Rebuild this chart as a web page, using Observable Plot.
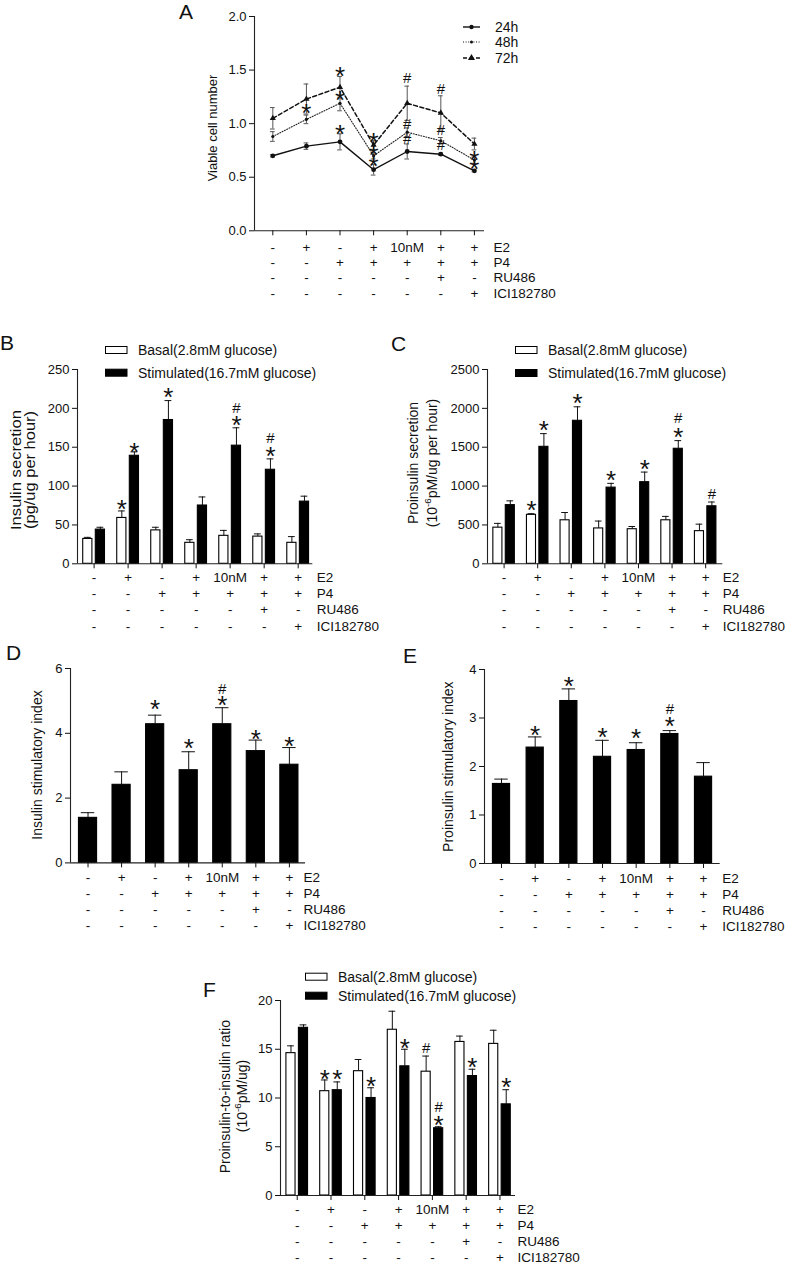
<!DOCTYPE html>
<html>
<head>
<meta charset="utf-8">
<script src="https://cdn.jsdelivr.net/npm/d3@7"></script>
<script src="https://cdn.jsdelivr.net/npm/@observablehq/plot@0.6"></script>
<style>
  html, body { margin: 0; padding: 0; background: #fff; }
  #wrap { position: relative; width: 787px; height: 1264px; overflow: hidden; background: #fff; }
</style>
</head>
<body>
<div id="wrap"></div>
<script>
// ---------- shared categories / treatment table ----------
const cats = [1, 2, 3, 4, 5, 6, 7];
const rowE2 = ["-", "+", "-", "+", "10nM", "+", "+"];
const rowP4 = ["-", "-", "+", "+", "+", "+", "+"];
const rowRU = ["-", "-", "-", "-", "-", "+", "-"];
const rowICI = ["-", "-", "-", "-", "-", "-", "+"];
const rowNames = ["E2", "P4", "RU486", "ICI182780"];
const seriesNames = ["Basal(2.8mM glucose)", "Stimulated(16.7mM glucose)"];
const timeNames = ["24h", "48h", "72h"];

// ---------- A: viable cell number ----------
const a24 = [0.70, 0.79, 0.83, 0.57, 0.74, 0.715, 0.56];
const a24Err = [0.01, 0.03, 0.075, 0.05, 0.07, 0.01, 0.01];
const a48 = [0.88, 1.04, 1.19, 0.70, 0.92, 0.84, 0.66];
const a48Err = [0.045, 0.04, 0.07, 0.03, 0.04, 0.03, 0.03];
const a72 = [1.05, 1.23, 1.34, 0.80, 1.19, 1.10, 0.81];
const a72Err = [0.10, 0.14, 0.10, 0.04, 0.16, 0.16, 0.055];
const aStars = [[2, 1.155], [3, 1.50], [3, 1.28], [3, 0.96], [4, 0.884], [4, 0.766], [4, 0.663], [7, 0.72], [7, 0.63]];
const aHashes = [[5, 1.43], [5, 1.0], [5, 0.86], [6, 1.33], [6, 0.94], [6, 0.80]];

// ---------- B: insulin secretion ----------
const bBasal = [32, 59, 43, 27, 36, 35, 27];
const bBasalErr = [2, 9, 4, 4, 7, 3.5, 8];
const bStim = [44, 139, 185, 75, 152, 121, 80];
const bStimErr = [3, 5, 25, 11, 23, 14, 7];
const bStars = [[2, 0, 78], [2, 1, 152], [3, 1, 222], [5, 1, 186], [6, 1, 146]];
const bHashes = [[5, 1, 201], [6, 1, 162]];

// ---------- C: proinsulin secretion ----------
const cBasal = [465, 630, 560, 455, 445, 560, 420];
const cBasalErr = [55, 15, 100, 95, 35, 50, 90];
const cStim = [755, 1505, 1840, 980, 1050, 1480, 740];
const cStimErr = [55, 170, 180, 55, 130, 105, 55];
const cStars = [[2, 0, 772], [2, 1, 1792], [3, 1, 2144], [4, 1, 1158], [5, 1, 1295], [6, 1, 1707]];
const cHashes = [[6, 1, 1878], [7, 1, 900]];

// ---------- D: insulin stimulatory index ----------
const dVals = [1.39, 2.41, 4.28, 2.86, 4.28, 3.45, 3.03];
const dErr = [0.16, 0.40, 0.28, 0.57, 0.51, 0.34, 0.53];
const dStars = [[3, 4.92], [4, 3.73], [5, 5.05], [6, 4.02], [7, 3.79]];
const dHashes = [[5, 5.38]];

// ---------- E: proinsulin stimulatory index ----------
const eVals = [1.64, 2.39, 3.35, 2.20, 2.34, 2.67, 1.79];
const eErr = [0.10, 0.22, 0.25, 0.34, 0.15, 0.07, 0.29];
const eStars = [[2, 2.78], [3, 3.78], [4, 2.74], [5, 2.71], [6, 2.95]];
const eHashes = [[6, 3.20]];

// ---------- F: proinsulin-to-insulin ratio ----------
const fBasal = [14.6, 10.7, 12.75, 17.0, 12.7, 15.75, 15.55];
const fBasalErr = [0.75, 1.15, 1.2, 1.9, 1.6, 0.6, 1.4];
const fStim = [17.2, 10.8, 10.0, 13.25, 6.9, 12.25, 9.35];
const fStimErr = [0.3, 0.85, 1.05, 1.75, 0.15, 0.7, 1.5];
const fStars = [[2, 0, 12.6], [2, 1, 12.6], [3, 1, 11.8], [4, 1, 15.7], [5, 1, 7.86], [6, 1, 13.74], [7, 1, 11.73]];
const fHashes = [[5, 0, 15.2], [5, 1, 9.06]];

// ================= drawing =================
const FONT = "Arial, 'Liberation Sans', Helvetica, sans-serif";
const wrap = document.getElementById("wrap");
const STAR = 26, HASH = 15;

function tableMarks(xEnd, rowDy, labelDx) {
  const rows = [rowE2, rowP4, rowRU, rowICI];
  const out = [];
  rows.forEach((row, r) => {
    out.push(Plot.text(cats, {x: d => d, y: () => 0, text: (d, i) => row[i], dy: rowDy[r], fontSize: 13.5, fill: "#111"}));
    out.push(Plot.text([rowNames[r]], {x: () => xEnd, y: () => 0, text: d => d, dx: labelDx, dy: rowDy[r], textAnchor: "start", fontSize: 13.5, fill: "#111"}));
  });
  return out;
}

function annMarks(stars, hashes, xOf, yOf) {
  return [
    Plot.text(stars, {x: xOf, y: yOf, text: () => "*", fontSize: STAR, dy: STAR * 0.255, fill: "#111"}),
    Plot.text(hashes, {x: xOf, y: yOf, text: () => "#", fontSize: HASH, dy: 0.5, fill: "#111"})
  ];
}

function groupedBars(vals, errs, off, w, cap, white) {
  return [
    Plot.rect(cats, {x1: d => d + off - w / 2, x2: d => d + off + w / 2, y1: () => 0, y2: (d, i) => vals[i],
      fill: white ? "#fff" : "#000", stroke: "#000", strokeWidth: 1.1}),
    Plot.ruleX(cats, {x: d => d + off, y1: (d, i) => vals[i], y2: (d, i) => vals[i] + errs[i], stroke: "#111", strokeWidth: 1}),
    Plot.ruleY(cats, {y: (d, i) => vals[i] + errs[i], x1: d => d + off - cap, x2: d => d + off + cap, stroke: "#111", strokeWidth: 1})
  ];
}

function makePanel(cfg) {
  const mL = 60, mT = 25, mB = 80;
  const mR = Math.min(100, 787 - cfg.x1);
  const width = cfg.x1 - cfg.x0 + mL + mR;
  const height = cfg.y1 - cfg.y0 + mT + mB;
  const svg = Plot.plot({
    width, height,
    marginLeft: mL, marginRight: mR, marginTop: mT, marginBottom: mB,
    x: {type: "linear", domain: cfg.xDomain},
    y: {type: "linear", domain: cfg.yDomain},
    style: {fontFamily: FONT, fontSize: "13px", color: "#111", background: "transparent", overflow: "visible"},
    marks: [
      ...cfg.marks,
      Plot.ruleX([cfg.xDomain[0]], {stroke: "#222", strokeWidth: 1.1}),
      Plot.ruleY([0], {stroke: "#222", strokeWidth: 1.1}),
      Plot.axisY({ticks: cfg.yTicks, tickFormat: cfg.yFormat, tickSize: 5, tickPadding: 3, label: null, fontSize: 13}),
      Plot.axisX({ticks: cats, tickFormat: () => "", tickSize: 5, label: null}),
      ...tableMarks(cfg.xDomain[1], cfg.rowDy, cfg.labelDx)
    ]
  });
  svg.style.position = "absolute";
  svg.style.left = (cfg.x0 - mL) + "px";
  svg.style.top = (cfg.y0 - mT) + "px";
  svg.style.maxWidth = "none";
  wrap.appendChild(svg);
}

// ---- A ----
const capA = 0.07;
const aList = [[a24, a24Err], [a48, a48Err], [a72, a72Err]];
const aMarks = [];
aList.forEach(([v, e]) => {
  aMarks.push(Plot.ruleX(cats, {x: d => d, y1: (d, i) => v[i] - e[i], y2: (d, i) => v[i] + e[i], stroke: "#555", strokeWidth: 1}));
  aMarks.push(Plot.ruleY(cats, {y: (d, i) => v[i] + e[i], x1: d => d - capA, x2: d => d + capA, stroke: "#555", strokeWidth: 1}));
  aMarks.push(Plot.ruleY(cats, {y: (d, i) => v[i] - e[i], x1: d => d - capA, x2: d => d + capA, stroke: "#555", strokeWidth: 1}));
});
aMarks.push(
  Plot.line(cats, {x: d => d, y: (d, i) => a24[i], stroke: "#111", strokeWidth: 1.4}),
  Plot.line(cats, {x: d => d, y: (d, i) => a48[i], stroke: "#222", strokeWidth: 1.1, strokeDasharray: "1,1.6"}),
  Plot.line(cats, {x: d => d, y: (d, i) => a72[i], stroke: "#111", strokeWidth: 1.5, strokeDasharray: "4,2.5"}),
  Plot.dot(cats, {x: d => d, y: (d, i) => a24[i], r: 2.4, fill: "#111"}),
  Plot.dot(cats, {x: d => d, y: (d, i) => a48[i], r: 1.6, fill: "#111"}),
  Plot.dot(cats, {x: d => d, y: (d, i) => a72[i], r: 2.3, symbol: "triangle", fill: "#111"}),
  ...annMarks(aStars, aHashes, d => d[0], d => d[1])
);
makePanel({x0: 254, x1: 484, y0: 15.7, y1: 230, xDomain: [0.455, 7.3], yDomain: [0, 2],
  yTicks: [0, 0.5, 1, 1.5, 2], yFormat: d3.format(".1f"), marks: aMarks, rowDy: [17, 32, 47, 63], labelDx: 9});

// ---- B ----
const OFF = 0.185, BW = 0.27, CAPG = 0.1;
const offOf = g => (g === 0 ? -OFF : OFF);
makePanel({x0: 76.7, x1: 312, y0: 369, y1: 563.3, xDomain: [0.512, 7.43], yDomain: [0, 250],
  yTicks: [0, 50, 100, 150, 200, 250], yFormat: d3.format("d"),
  marks: [...groupedBars(bBasal, bBasalErr, -OFF, BW, CAPG, true), ...groupedBars(bStim, bStimErr, OFF, BW, CAPG, false),
    ...annMarks(bStars, bHashes, d => d[0] + offOf(d[1]), d => d[2])],
  rowDy: [14, 30, 46, 62.5], labelDx: 4});

// ---- C ----
makePanel({x0: 486.7, x1: 722, y0: 369, y1: 563.3, xDomain: [0.506, 7.51], yDomain: [0, 2500],
  yTicks: [0, 500, 1000, 1500, 2000, 2500], yFormat: d3.format("d"),
  marks: [...groupedBars(cBasal, cBasalErr, -OFF, BW, CAPG, true), ...groupedBars(cStim, cStimErr, OFF, BW, CAPG, false),
    ...annMarks(cStars, cHashes, d => d[0] + offOf(d[1]), d => d[2])],
  rowDy: [14, 30, 46, 62.5], labelDx: 0});

// ---- D ----
makePanel({x0: 70, x1: 305, y0: 668.3, y1: 862.7, xDomain: [0.478, 7.48], yDomain: [0, 6],
  yTicks: [0, 2, 4, 6], yFormat: d3.format("d"),
  marks: [...groupedBars(dVals, dErr, 0, 0.54, 0.2, false), ...annMarks(dStars, dHashes, d => d[0], d => d[1])],
  rowDy: [15, 31, 47, 63], labelDx: -2});

// ---- E ----
makePanel({x0: 484.3, x1: 720, y0: 669.3, y1: 863.3, xDomain: [0.495, 7.495], yDomain: [0, 4],
  yTicks: [0, 1, 2, 3, 4], yFormat: d3.format("d"),
  marks: [...groupedBars(eVals, eErr, 0, 0.51, 0.2, false), ...annMarks(eStars, eHashes, d => d[0], d => d[1])],
  rowDy: [15, 31, 47, 63], labelDx: 2});

// ---- F ----
makePanel({x0: 280, x1: 515, y0: 1000, y1: 1195, xDomain: [0.505, 7.46], yDomain: [0, 20],
  yTicks: [0, 5, 10, 15, 20], yFormat: d3.format("d"),
  marks: [...groupedBars(fBasal, fBasalErr, -OFF, BW, CAPG, true), ...groupedBars(fStim, fStimErr, OFF, BW, CAPG, false),
    ...annMarks(fStars, fHashes, d => d[0] + offOf(d[1]), d => d[2])],
  rowDy: [14, 30.5, 46, 62], labelDx: 2});

// ---------- overlay: panel letters, axis titles, legends ----------
const ov = d3.select(wrap).append("svg")
  .attr("width", 787).attr("height", 1264)
  .style("position", "absolute").style("left", "0px").style("top", "0px")
  .style("font-family", FONT).style("pointer-events", "none");

[["A", 179, 19], ["B", 0, 350], ["C", 391, 351], ["D", 6, 660], ["E", 403, 663], ["F", 203, 997]]
  .forEach(([t, x, y]) => ov.append("text").attr("x", x).attr("y", y).attr("font-size", 21).attr("fill", "#111").text(t));

function vtitle(x, y, parts, size, len) {
  const t = ov.append("text")
    .attr("transform", `translate(${x},${y}) rotate(-90)`)
    .attr("text-anchor", "middle").attr("dominant-baseline", "central")
    .attr("font-size", size).attr("fill", "#111");
  if (len) t.attr("textLength", len).attr("lengthAdjust", "spacingAndGlyphs");
  let raised = false;
  parts.forEach(p => {
    if (typeof p === "string") {
      const s = t.append("tspan").text(p);
      if (raised) { s.attr("dy", 5); raised = false; }
    } else {
      t.append("tspan").attr("font-size", size * 0.7).attr("dy", -5).text(p.sup);
      raised = true;
    }
  });
}
vtitle(211.7, 128, ["Viable cell number"], 13, null);
vtitle(15, 470, ["Insulin secretion"], 15, 120);
vtitle(29, 470, ["(pg/ug per hour)"], 15, 118);
vtitle(413, 463, ["Proinsulin secretion"], 14, null);
vtitle(431.7, 463, ["(10", {sup: "-6"}, "pM/ug per hour)"], 14, null);
vtitle(36.7, 765, ["Insulin stimulatory index"], 14, null);
vtitle(448.3, 766.7, ["Proinsulin stimulatory index"], 14, null);
vtitle(225, 1096.7, ["Proinsulin-to-insulin ratio"], 14, null);
vtitle(241.7, 1096, ["(10", {sup: "-6"}, "pM/ug)"], 14, null);

// A legend
const legA = [[27, null, 2.2, "circle"], [42, "1,1.6", 1.5, "circle"], [58, "4,2.5", 2.2, "triangle"]];
legA.forEach(([y, dash, r, sym], k) => {
  const l = ov.append("line").attr("x1", 463).attr("x2", 480).attr("y1", y).attr("y2", y)
    .attr("stroke", "#111").attr("stroke-width", k === 1 ? 1.1 : 1.4);
  if (dash) l.attr("stroke-dasharray", dash);
  if (sym === "circle") ov.append("circle").attr("cx", 471.5).attr("cy", y).attr("r", r).attr("fill", "#111");
  else ov.append("path").attr("d", d3.symbol(d3.symbolTriangle, 22)()).attr("transform", `translate(471.5,${y})`).attr("fill", "#111");
  ov.append("text").attr("x", 495).attr("y", y + 5).attr("font-size", 14).attr("fill", "#111").text(timeNames[k]);
});

// bar legends
function barLegend(rx, tx, y0, y1) {
  [[y0, "#fff"], [y1, "#000"]].forEach(([y, fill], k) => {
    ov.append("rect").attr("x", rx).attr("y", y - 3.5).attr("width", 21.5).attr("height", 7)
      .attr("fill", fill).attr("stroke", "#000").attr("stroke-width", 1);
    ov.append("text").attr("x", tx).attr("y", y + 5).attr("font-size", 14).attr("fill", "#111").text(seriesNames[k]);
  });
}
barLegend(105.5, 138, 350, 372.7);
barLegend(515.5, 548, 350, 373);
barLegend(305.5, 338, 976.7, 995.7);
</script>
</body>
</html>
